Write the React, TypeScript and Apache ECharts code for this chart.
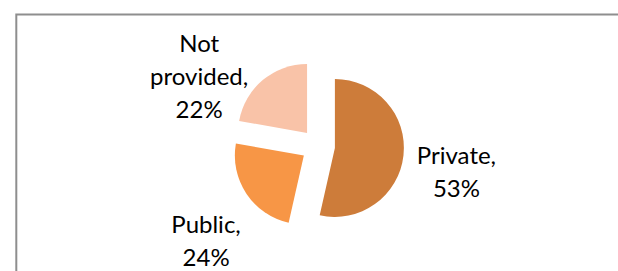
import React, { useEffect, useRef } from "react";
import * as echarts from "echarts";

const categories = ["Private", "Public", "Not provided"];
const values = [53, 24, 22];
const colors = ["#CD7C3A", "#F79646", "#F9C3A8"];

export default function App() {
  const ref = useRef<HTMLDivElement>(null);
  useEffect(() => {
    const chart = echarts.init(ref.current!, null, { renderer: "svg" });
    const data = categories.map((name, i) => ({
      name,
      value: values[i],
      selected: true,
      itemStyle: { color: colors[i] },
    }));
    const labelShift = [
      [-5, 15],
      [17, 44],
      [-7, -2],
    ];
    chart.setOption({
      animation: false,
      graphic: [
        {
          type: "rect",
          shape: { x: 16.3, y: 14.5, width: 700, height: 400 },
          style: { fill: "none", stroke: "#8E8E8E", lineWidth: 2 },
          silent: true,
        },
      ],
      series: [
        {
          type: "pie",
          center: [318, 146],
          radius: 69,
          startAngle: 90,
          clockwise: true,
          selectedMode: "multiple",
          selectedOffset: 17,
          data,
          label: {
            show: true,
            position: "outside",
            fontFamily: "Lato",
            fontSize: 24,
            color: "#000",
            distanceToLabelLine: 2,
            formatter: (p: any) => {
              const lines = (p.name + ",").split(" ");
              lines.push(p.value + "%");
              return lines.map((l: string) => "{a|" + l + "}").join("\n");
            },
            rich: {
              a: {
                fontFamily: "Lato",
                fontSize: 24,
                color: "#000",
                width: 104,
                align: "center",
                lineHeight: 33,
              },
            },
          },
          labelLayout: (p: any) => ({
            dx: labelShift[p.dataIndex][0],
            dy: labelShift[p.dataIndex][1],
          }),
          labelLine: { show: false, length: 4, length2: 0 },
          emphasis: { disabled: true },
        },
      ],
    });
    return () => chart.dispose();
  }, []);
  return (
    <div
      ref={ref}
      style={{ position: "absolute", left: 0, top: 0, width: 618, height: 271 }}
    />
  );
}
